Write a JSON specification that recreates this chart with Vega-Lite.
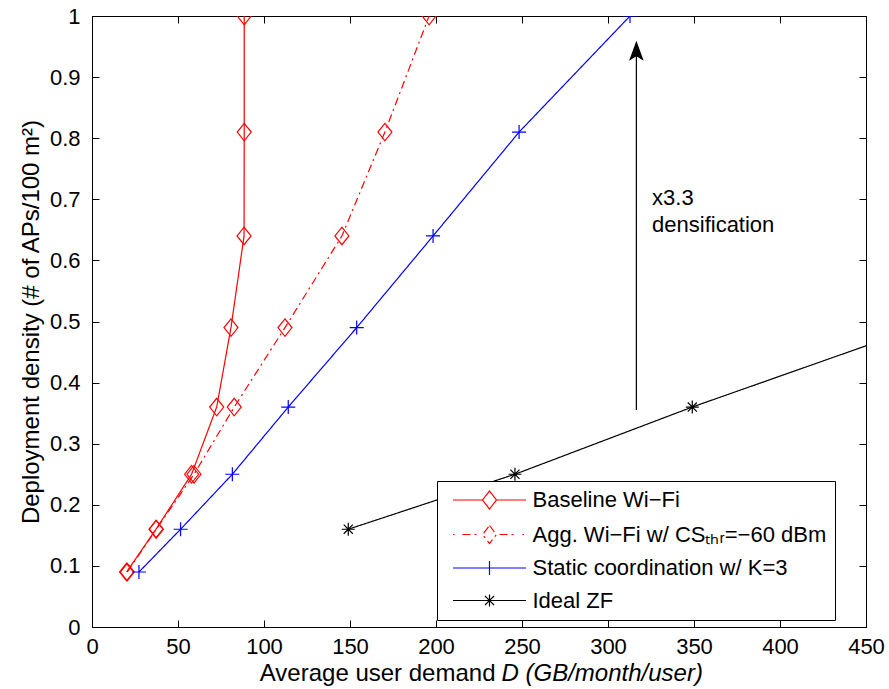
{
  "$schema": "https://vega.github.io/schema/vega-lite/v6.json",
  "width": 774,
  "height": 611,
  "autosize": {"type": "none"},
  "padding": {"left": 92, "top": 16, "right": 23, "bottom": 62},
  "background": "white",
  "config": {
    "font": "Liberation Sans",
    "view": {"stroke": "black", "strokeWidth": 1},
    "axis": {
      "grid": false,
      "domainColor": "black",
      "tickColor": "black",
      "labelColor": "black",
      "titleColor": "black",
      "labelFontSize": 22,
      "titleFontSize": 24,
      "titleFontWeight": "normal",
      "tickSize": -7,
      "domainWidth": 1,
      "tickWidth": 1,
      "labelFlush": false,
      "labelOverlap": false
    }
  },
  "datasets": {
    "series": [
      {"s": "Baseline Wi−Fi", "x": 20.1, "y": 0.09},
      {"s": "Baseline Wi−Fi", "x": 37.2, "y": 0.16},
      {"s": "Baseline Wi−Fi", "x": 57.9, "y": 0.25},
      {"s": "Baseline Wi−Fi", "x": 72.5, "y": 0.36},
      {"s": "Baseline Wi−Fi", "x": 80.8, "y": 0.49},
      {"s": "Baseline Wi−Fi", "x": 88.4, "y": 0.64},
      {"s": "Baseline Wi−Fi", "x": 88.5, "y": 0.81},
      {"s": "Baseline Wi−Fi", "x": 88.5, "y": 1.0},
      {"s": "Agg. Wi−Fi w/ CSₜₕᵣ=−60 dBm", "x": 20.5, "y": 0.09},
      {"s": "Agg. Wi−Fi w/ CSₜₕᵣ=−60 dBm", "x": 37.4, "y": 0.16},
      {"s": "Agg. Wi−Fi w/ CSₜₕᵣ=−60 dBm", "x": 59.3, "y": 0.25},
      {"s": "Agg. Wi−Fi w/ CSₜₕᵣ=−60 dBm", "x": 82.7, "y": 0.36},
      {"s": "Agg. Wi−Fi w/ CSₜₕᵣ=−60 dBm", "x": 112.2, "y": 0.49},
      {"s": "Agg. Wi−Fi w/ CSₜₕᵣ=−60 dBm", "x": 145.3, "y": 0.64},
      {"s": "Agg. Wi−Fi w/ CSₜₕᵣ=−60 dBm", "x": 170.3, "y": 0.81},
      {"s": "Agg. Wi−Fi w/ CSₜₕᵣ=−60 dBm", "x": 196.0, "y": 1.0},
      {"s": "Static coordination w/ K=3", "x": 27.3, "y": 0.09},
      {"s": "Static coordination w/ K=3", "x": 51.5, "y": 0.16},
      {"s": "Static coordination w/ K=3", "x": 81.6, "y": 0.25},
      {"s": "Static coordination w/ K=3", "x": 114.1, "y": 0.36},
      {"s": "Static coordination w/ K=3", "x": 153.9, "y": 0.49},
      {"s": "Static coordination w/ K=3", "x": 198.3, "y": 0.64},
      {"s": "Static coordination w/ K=3", "x": 248.3, "y": 0.81},
      {"s": "Static coordination w/ K=3", "x": 312.8, "y": 1.0},
      {"s": "Ideal ZF", "x": 149.0, "y": 0.16},
      {"s": "Ideal ZF", "x": 245.9, "y": 0.25},
      {"s": "Ideal ZF", "x": 349.0, "y": 0.36},
      {"s": "Ideal ZF", "x": 480.0, "y": 0.49}
    ],
    "arrow": [{"x": 316.5, "y": 0.355, "y2": 0.935}],
    "head": [{"x": 316.5, "y": 0.943}],
    "notes": [
      {"x": 325.6, "y": 0.6907, "t": "x3.3"},
      {"x": 325.6, "y": 0.6465, "t": "densification"}
    ]
  },
  "layer": [
    {
      "data": {"name": "series"},
      "mark": {"type": "line", "strokeWidth": 1.2, "clip": true},
      "encoding": {
        "x": {
          "field": "x", "type": "quantitative",
          "scale": {"domain": [0, 450], "nice": false},
          "axis": {
            "values": [0, 50, 100, 150, 200, 250, 300, 350, 400, 450],
            "labelPadding": 16,
            "title": "Average user demand",
            "titleX": 403, "titleY": 53,
            "titleAlign": "right", "titleBaseline": "alphabetic"
          }
        },
        "y": {
          "field": "y", "type": "quantitative",
          "scale": {"domain": [0, 1], "nice": false},
          "axis": {
            "values": [0, 0.1, 0.2, 0.3, 0.4, 0.5, 0.6, 0.7, 0.8, 0.9, 1],
            "format": "~g",
            "labelPadding": 19,
            "title": "Deployment density (# of APs/100 m²)",
            "titleX": -54, "titleY": 305.5,
            "titleAngle": -90, "titleAlign": "center", "titleBaseline": "alphabetic"
          }
        },
        "order": {"field": "y", "type": "quantitative"},
        "color": {
          "field": "s", "type": "nominal",
          "scale": {
            "domain": ["Baseline Wi−Fi", "Agg. Wi−Fi w/ CSₜₕᵣ=−60 dBm", "Static coordination w/ K=3", "Ideal ZF"],
            "range": ["#ff0000", "#ff0000", "#0000ff", "#000000"]
          },
          "legend": {
            "title": null,
            "orient": "none",
            "legendX": 345,
            "legendY": 465,
            "strokeColor": "black",
            "fillColor": "white",
            "padding": 8,
            "symbolSize": 400,
            "symbolOffset": 33.5,
            "labelOffset": 32,
            "labelFontSize": 22,
            "labelColor": "black",
            "labelLimit": 500,
            "rowPadding": 10.5,
            "symbolStrokeWidth": 1.2,
            "encode": {
              "symbols": {
                "update": {
                  "shape": {"signal": "['M-3.65,0L-0.7,0M0.7,0L3.65,0M0,-0.9L0.7,0L0,0.9L-0.7,0Z', 'M-3.65,0L-3.5,0M-2.7,0L-1.2,0M1.0,0L2.5,0M3.3,0L3.45,0M0,-0.9L0.7,0L0,0.9L-0.7,0Z', 'M-3.65,0L3.65,0M0,-0.7L0,0.7', 'M-3.65,0L3.65,0M0,-0.6L0,0.6M-0.45,-0.45L0.45,0.45M-0.45,0.45L0.45,-0.45'][datum.index]"},
                  "fill": {"value": "transparent"},
                  "strokeDash": {"value": [1, 0]}
                }
              }
            }
          }
        },
        "strokeDash": {
          "field": "s", "type": "nominal",
          "scale": {
            "domain": ["Baseline Wi−Fi", "Agg. Wi−Fi w/ CSₜₕᵣ=−60 dBm", "Static coordination w/ K=3", "Ideal ZF"],
            "range": [[1, 0], [8, 4, 2, 4], [1, 0], [1, 0]]
          },
          "legend": null
        }
      }
    },
    {
      "data": {"name": "series"},
      "transform": [{"filter": "datum.s === 'Baseline Wi−Fi' || indexof(datum.s, 'Agg') === 0"}],
      "mark": {"type": "point", "filled": false, "strokeWidth": 1.2, "clip": true, "color": "#ff0000", "opacity": 1, "shape": "M0,-1.25L1,0L0,1.25L-1,0Z", "size": 196},
      "encoding": {
        "x": {"field": "x", "type": "quantitative", "axis": null},
        "y": {"field": "y", "type": "quantitative", "axis": null}
      }
    },
    {
      "data": {"name": "series"},
      "transform": [{"filter": "datum.s === 'Static coordination w/ K=3'"}],
      "mark": {"type": "point", "filled": false, "strokeWidth": 1.2, "clip": true, "color": "#0000ff", "opacity": 1, "shape": "M-1,0L1,0M0,-1L0,1", "size": 196},
      "encoding": {
        "x": {"field": "x", "type": "quantitative", "axis": null},
        "y": {"field": "y", "type": "quantitative", "axis": null}
      }
    },
    {
      "data": {"name": "series"},
      "transform": [{"filter": "datum.s === 'Ideal ZF'"}],
      "mark": {"type": "point", "filled": false, "strokeWidth": 1.2, "clip": true, "color": "#000000", "opacity": 1, "shape": "M-1,0L1,0M0,-1L0,1M-0.7,-0.7L0.7,0.7M-0.7,0.7L0.7,-0.7", "size": 169},
      "encoding": {
        "x": {"field": "x", "type": "quantitative", "axis": null},
        "y": {"field": "y", "type": "quantitative", "axis": null}
      }
    },
    {
      "data": {"name": "series"},
      "mark": {"type": "point", "opacity": 0},
      "encoding": {
        "x": {
          "field": "x", "type": "quantitative",
          "axis": {"orient": "top", "values": [0, 50, 100, 150, 200, 250, 300, 350, 400, 450], "labels": false, "title": null}
        },
        "y": {
          "field": "y", "type": "quantitative",
          "axis": {"orient": "right", "values": [0, 0.1, 0.2, 0.3, 0.4, 0.5, 0.6, 0.7, 0.8, 0.9, 1], "labels": false, "title": null}
        }
      }
    },
    {
      "data": {"name": "series"},
      "mark": {"type": "point", "opacity": 0},
      "encoding": {
        "x": {
          "field": "x", "type": "quantitative",
          "axis": {
            "orient": "bottom", "domain": false, "ticks": false, "labels": false,
            "title": "D (GB/month/user)", "titleFontStyle": "italic",
            "titleX": 409, "titleY": 53, "titleAlign": "left", "titleBaseline": "alphabetic"
          }
        },
        "y": {"field": "y", "type": "quantitative", "axis": null}
      }
    },
    {
      "data": {"name": "arrow"},
      "mark": {"type": "rule", "color": "black", "strokeWidth": 1.2},
      "encoding": {
        "x": {"field": "x", "type": "quantitative", "axis": null},
        "y": {"field": "y", "type": "quantitative", "axis": null},
        "y2": {"field": "y2"}
      }
    },
    {
      "data": {"name": "head"},
      "mark": {"type": "point", "filled": true, "color": "black", "opacity": 1, "shape": "M0,-1L0.73,1L0,0.55L-0.73,1Z", "size": 400},
      "encoding": {
        "x": {"field": "x", "type": "quantitative", "axis": null},
        "y": {"field": "y", "type": "quantitative", "axis": null}
      }
    },
    {
      "data": {"name": "notes"},
      "mark": {"type": "text", "align": "left", "baseline": "alphabetic", "fontSize": 22, "color": "black", "font": "Liberation Sans"},
      "encoding": {
        "x": {"field": "x", "type": "quantitative", "axis": null},
        "y": {"field": "y", "type": "quantitative", "axis": null},
        "text": {"field": "t"}
      }
    }
  ],
  "resolve": {"axis": {"x": "independent", "y": "independent"}}
}
